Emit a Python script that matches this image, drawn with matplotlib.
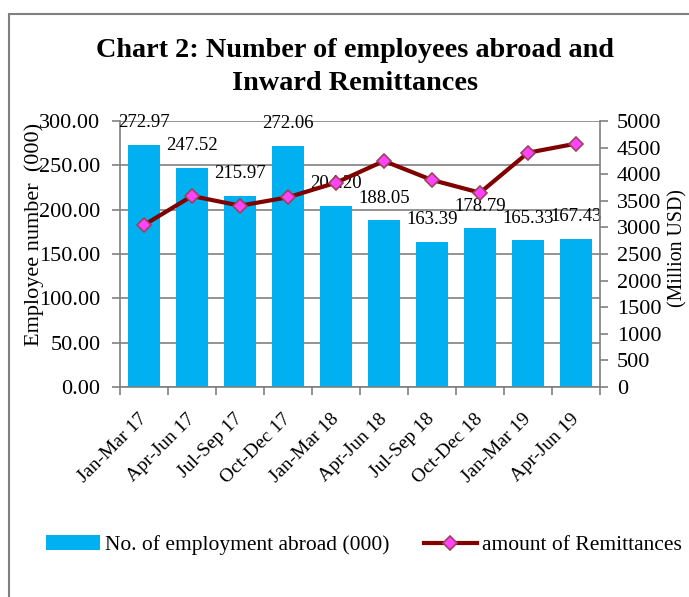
import matplotlib.pyplot as plt
from matplotlib.patches import Rectangle
from matplotlib.transforms import ScaledTranslation
import numpy as np

# ===== DATA =====
quarters = ["Jan-Mar 17", "Apr-Jun 17", "Jul-Sep 17", "Oct-Dec 17", "Jan-Mar 18",
            "Apr-Jun 18", "Jul-Sep 18", "Oct-Dec 18", "Jan-Mar 19", "Apr-Jun 19"]
employment = [272.97, 247.52, 215.97, 272.06, 204.20, 188.05, 163.39, 178.79, 165.33, 167.43]
remittances = [3045, 3590, 3408, 3566, 3840, 4248, 3891, 3652, 4404, 4574]

plt.rcParams["font.family"] = ["Liberation Serif", "DejaVu Serif"]

fig = plt.figure(figsize=(6.89, 5.97), dpi=100)
fig.patches.append(Rectangle((9 / 689, -0.01), 1.0, 1 - 14 / 597 + 0.01, transform=fig.transFigure,
                             fill=False, edgecolor="#808080", linewidth=1.5))

ax = fig.add_axes([120 / 689, 1 - 387 / 597, 480 / 689, 266 / 597])
ax2 = ax.twinx()
ax.set_zorder(1)
ax2.set_zorder(2)
ax.patch.set_visible(False)

x = np.arange(len(quarters))
ax.bar(x, employment, width=0.65, color="#00B0F0", zorder=2, label="No. of employment abroad (000)")
for xi, v in zip(x, employment):
    ax.annotate(f"{v:.2f}", (xi, v), xytext=(0, 16), textcoords="offset points",
                ha="center", va="center", fontsize=13.5, zorder=5)

ax2.plot(x, remittances, color="#800000", linewidth=3, marker="D", markersize=7,
         markerfacecolor="#FF44FF", markeredgecolor="#A0405A", markeredgewidth=1.2,
         label="amount of Remittances")

ax.set_xlim(-0.5, len(quarters) - 0.5)
ax.set_ylim(0, 300)
ax2.set_ylim(0, 5000)
ax.set_yticks(np.arange(0, 301, 50))
ax.set_yticklabels([f"{v:.2f}" for v in np.arange(0, 301, 50)], fontsize=16)
ax2.set_yticks(np.arange(0, 5001, 500))
ax2.set_yticklabels([str(v) for v in np.arange(0, 5001, 500)], fontsize=16)
ax.grid(axis="y", color="#808080", linewidth=1.2, zorder=0)
ax.set_axisbelow(True)

ax.set_xticks(np.arange(-0.5, len(quarters), 1.0))
ax.set_xticklabels([])
ax.set_xticks(x, minor=True)
ax.set_xticklabels(quarters, minor=True, rotation=45, ha="right", va="center",
                   rotation_mode="anchor", fontsize=14)
shift = ScaledTranslation(-5 / 72, 0, fig.dpi_scale_trans)
for lbl in ax.get_xticklabels(minor=True):
    lbl.set_transform(lbl.get_transform() + shift)
ax.tick_params(axis="x", which="minor", length=0, pad=21)
ax.tick_params(axis="x", which="major", length=6, color="#808080", width=1.2)
ax.tick_params(axis="y", length=6, color="#808080", width=1.2, pad=8)
ax2.tick_params(axis="y", length=6, color="#808080", width=1.2, pad=6)

for a in (ax, ax2):
    for s in a.spines.values():
        s.set_visible(False)
ax.spines["left"].set_visible(True)
ax.spines["bottom"].set_visible(True)
ax2.spines["right"].set_visible(True)
for s in (ax.spines["left"], ax.spines["bottom"], ax2.spines["right"]):
    s.set_color("#808080")
    s.set_linewidth(1.2)

ax.set_ylabel("Employee number  (000)", fontsize=16)
ax.yaxis.set_label_coords(-0.158, 0.575)
ax2.set_ylabel("(Million USD)", fontsize=14.3)
ax2.yaxis.set_label_coords(1.142, 0.524)

fig.text(355 / 689, 1 - 67 / 597, "Chart 2: Number of employees abroad and\nInward Remittances",
         ha="center", va="center", fontsize=20.3, fontweight="bold", linespacing=1.4)

h1, l1 = ax.get_legend_handles_labels()
h2, l2 = ax2.get_legend_handles_labels()
fig.legend(h1 + h2, l1 + l2, loc="center", bbox_to_anchor=(364 / 689, 1 - 545 / 597), ncol=2,
           frameon=False, fontsize=15.5, handlelength=2.5, handletextpad=0.2, columnspacing=1.6)

fig.savefig("out.png", dpi=100)
